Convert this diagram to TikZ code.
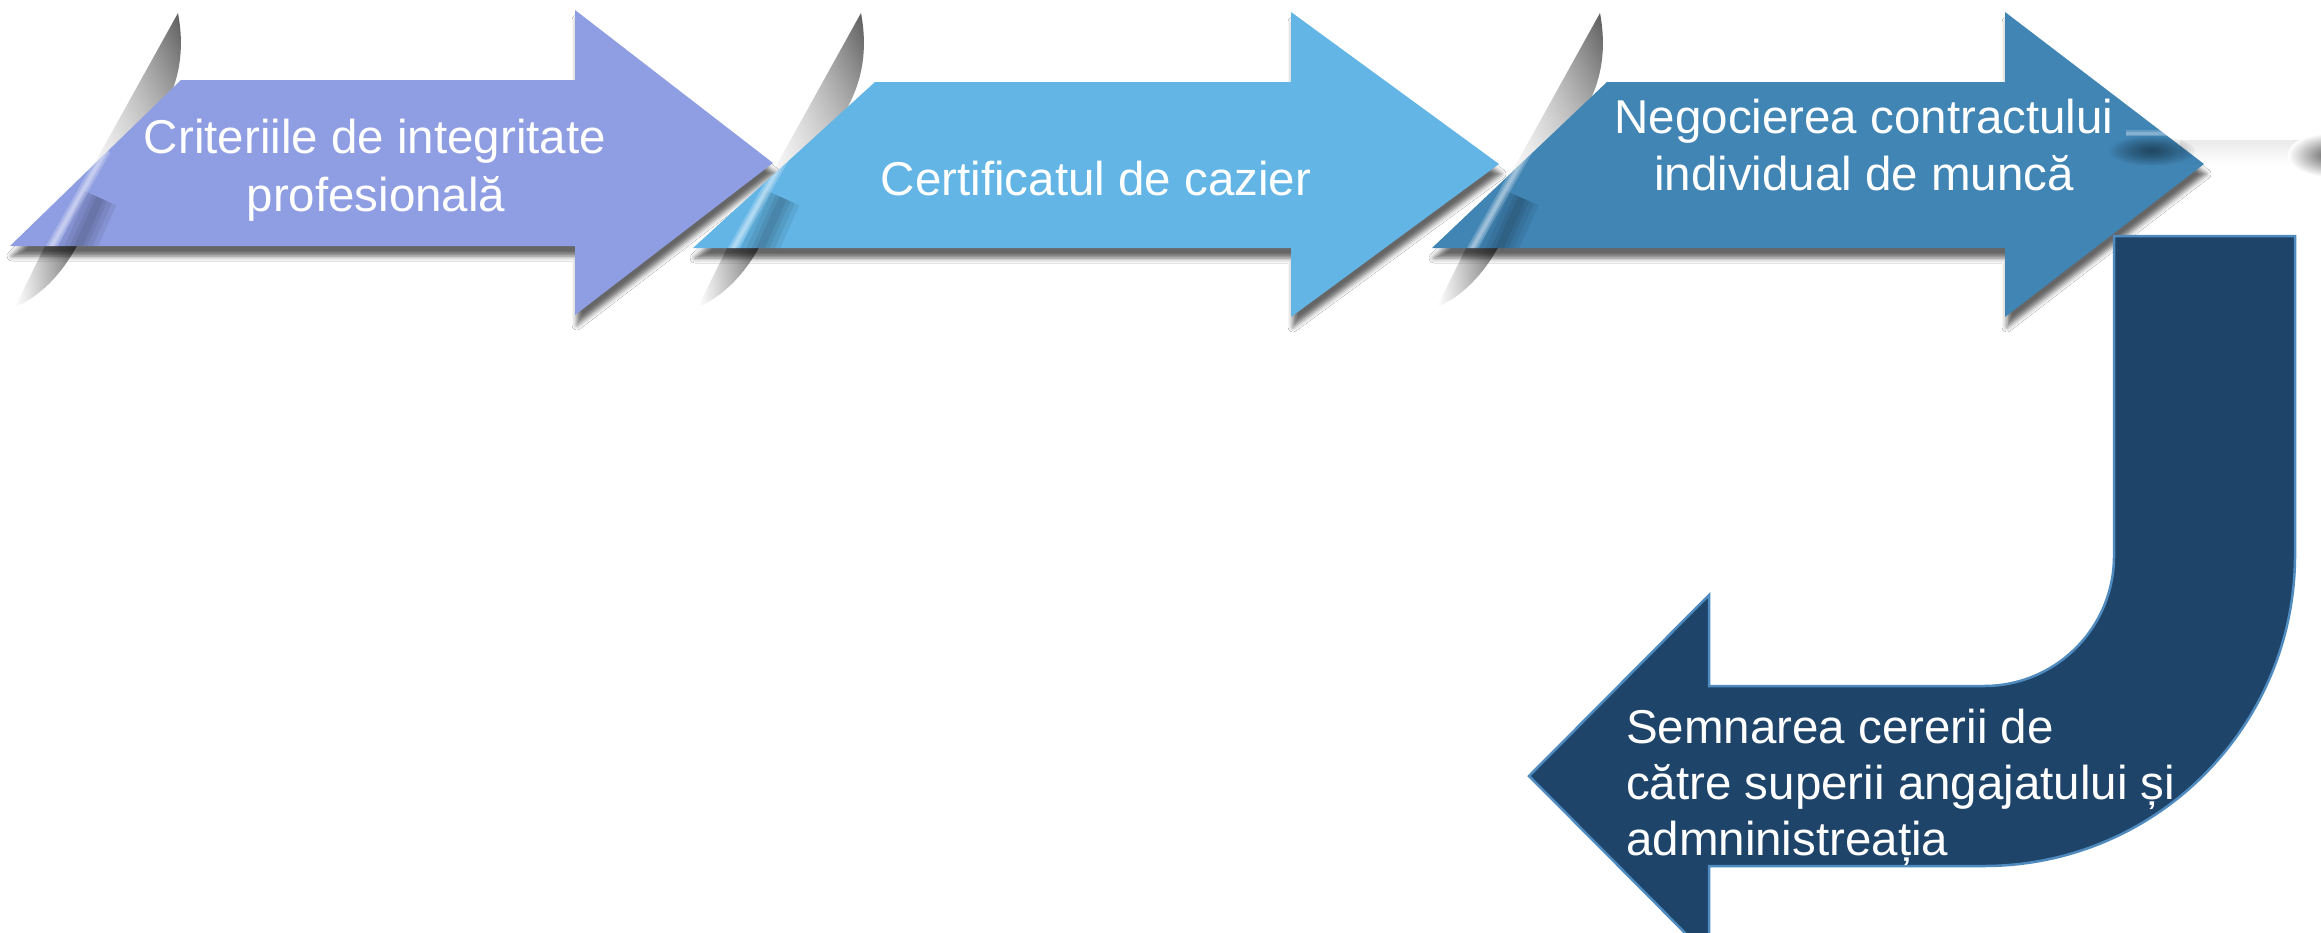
\documentclass[tikz,border=0pt]{standalone}
\usepackage{fontspec}
\setmainfont{Liberation Sans}
\usetikzlibrary{shadows.blur,shadings}
\definecolor{cA}{RGB}{143,158,226}
\definecolor{cB}{RGB}{99,181,230}
\definecolor{cC}{RGB}{65,133,181}
\definecolor{cD}{RGB}{31,68,106}
\definecolor{cDline}{RGB}{79,139,190}
\tikzset{
  lbl/.style={text=white, inner sep=0pt, font=\fontsize{47.5}{57}\selectfont},
  arrowshadow/.style={blur shadow={shadow xshift=2pt, shadow yshift=-10pt, shadow blur radius=5pt, shadow opacity=60}},
  curltop/.style={upper left=white, upper right=black!78, lower left=white, lower right=black!18, opacity=0.85},
  curlbot/.style={upper left=white, upper right=black!72, lower left=white, lower right=black!55, opacity=0.85},
}
\def\pathA{(10,246) -- (181,80) -- (575,80) -- (575,10) -- (773,163) -- (575,315) -- (575,246) -- cycle}
\def\pathB{(693,248) -- (875,82) -- (1291,82) -- (1291,12) -- (1499,164) -- (1291,317) -- (1291,248) -- cycle}
\def\pathC{(1432,248) -- (1607,82) -- (2005,82) -- (2005,12) -- (2204,164) -- (2005,317) -- (2005,248) -- cycle}
\newcommand\curlover{%
  \foreach \w in {8,16,26,36} \draw[black, opacity=0.07, line width=\w] (100,198) -- (74,256);
  \foreach \w in {3,6,10} \draw[white, opacity=0.2, line width=\w] (106,150) -- (46,256);
}
\begin{document}
\begin{tikzpicture}[x=1pt,y=-1pt]
\useasboundingbox (0,0) rectangle (2321,932);
\clip (0,0) rectangle (2321,932);
\fill[white] (0,0) rectangle (2321,932);
% curl streaks behind the arrows
\foreach \dx in {0,683,1422}{
  \begin{scope}[shift={(\dx,0)}]
    \shade[curltop] (178,13) .. controls (184,45) and (182,80) .. (160,115)
      .. controls (140,145) and (120,170) .. (100,195) -- (77,195) -- cycle;
    \shade[curlbot] (48,240) -- (80,240) .. controls (66,268) and (44,295) .. (15,307) -- cycle;
  \end{scope}
}
% arrows
\fill[cA, arrowshadow] \pathA;
\fill[cB, arrowshadow] \pathB;
\fill[cC, arrowshadow] \pathC;
% curl effect over arrows
\begin{scope}
  \clip \pathA;
  \curlover
\end{scope}
\begin{scope}
  \clip \pathB;
  \begin{scope}[shift={(683,0)}]\curlover\end{scope}
\end{scope}
\begin{scope}
  \clip \pathC;
  \begin{scope}[shift={(1422,0)}]\curlover\end{scope}
\end{scope}
% U-turn arrow
\fill[cD, draw=cDline, line width=2.5] (2114,236) -- (2295,236) -- (2295,555)
  arc[start angle=0, end angle=90, radius=311] -- (1709,866) -- (1709,957)
  -- (1529,776) -- (1709,595) -- (1709,686) -- (1984,686)
  arc[start angle=90, end angle=0, radius=130] -- cycle;
% horizontal streak at top right
\foreach \i in {0,...,12} \draw[black, opacity={0.08*(1-\i/12)}, line width=2.3] (2180,141+2*\i) -- (2321,141+2*\i);
\foreach \i in {1,...,12} \fill[black, opacity=0.045] (2152,151) ellipse [x radius={46-3.4*\i}, y radius={16-1.15*\i}];
\shade[inner color=black!62, outer color=white] (2330,155) ellipse [x radius=42, y radius=22];
\begin{scope}
  \clip \pathC;
  \foreach \w in {3,6} \draw[white, opacity=0.2, line width=\w] (2126,133) -- (2200,133);
\end{scope}
% labels
\node[lbl, anchor=base] (t1a) at (375,153) {Criteriile de integritate};
\node[lbl, anchor=base] (t1b) at (376,211) {profesională};
\node[lbl, anchor=base] (t2) at (1096,195) {Certificatul de cazier};
\node[lbl, anchor=base] (t3a) at (1864,133) {Negocierea contractului};
\node[lbl, anchor=base] (t3b) at (1864,190) {individual de muncă};
\node[lbl, anchor=base west] (t4a) at (1626,743) {Semnarea cererii de};
\node[lbl, anchor=base west] (t4b) at (1626,799) {către superii angajatului și};
\node[lbl, anchor=base west] (t4c) at (1626,855) {admninistreația};
\end{tikzpicture}
\end{document}
